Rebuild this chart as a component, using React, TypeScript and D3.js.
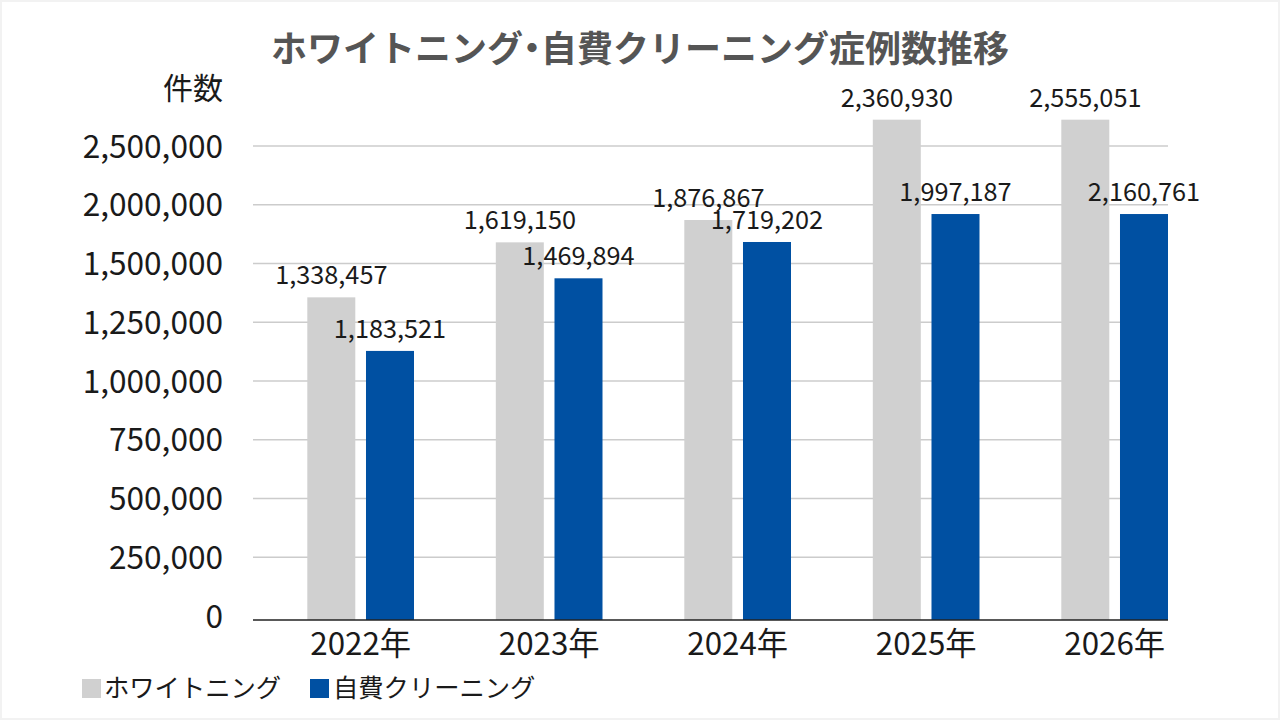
import React from 'react';
import * as d3 from 'd3';

const categories = ['2022年', '2023年', '2024年', '2025年', '2026年'];
const seriesNames = ['ホワイトニング', '自費クリーニング'];
const seriesColors = ['#d0d0d0', '#0050a2'];

// printed values above each bar
const whiteningLabels = [1338457, 1619150, 1876867, 2360930, 2555051];
const cleaningLabels = [1183521, 1469894, 1719202, 1997187, 2160761];

// bar heights as drawn in the chart
const whiteningBars = [1356000, 1680000, 1870000, 2724000, 2724000];
const cleaningBars = [1128000, 1437000, 1683000, 1921000, 1921000];

const yTicks = [0, 250000, 500000, 750000, 1000000, 1250000, 1500000, 2000000, 2500000];

const W = 1280;
const H = 720;
const FONT = '"Noto Sans CJK JP", "Noto Sans", sans-serif';

const plot = { left: 253, right: 1168, top: 146, bottom: 620, step: 58.75 };

export default function App() {
  // the axis is not linear: ticks are spaced evenly, so a piecewise scale
  const y = d3.scaleLinear()
    .domain(yTicks)
    .range(yTicks.map((_, i) => (i === 0 ? plot.bottom : plot.top + (yTicks.length - 1 - i) * plot.step)));

  const x0 = d3.scaleBand<string>()
    .domain(categories)
    .range([307.3, 307.3 + 188.5 * categories.length]);

  const x1 = d3.scaleBand<string>()
    .domain(seriesNames)
    .range([0, 106.7])
    .paddingInner(0.182);

  const fmt = d3.format(',');

  const barSets = [
    { name: seriesNames[0], bars: whiteningBars, labels: whiteningLabels, color: seriesColors[0] },
    { name: seriesNames[1], bars: cleaningBars, labels: cleaningLabels, color: seriesColors[1] },
  ];

  return (
    <div style={{ position: 'fixed', left: 0, top: 0 }}>
      <svg width={W} height={H} style={{ display: 'block', fontFamily: FONT }}>
        <rect x={0} y={0} width={W} height={H} fill="#f2f2f2" />
        <rect x={2} y={2} width={W - 4} height={H - 4} fill="#ffffff" />

        <text x={640} y={62} textAnchor="middle" fontSize={36} fontWeight="bold" fill="#555555">
          ホワイトニング<tspan dx={-9}>・</tspan><tspan dx={-9}>自費クリーニング症例数推移</tspan>
        </text>
        <text x={163} y={99} fontSize={30} fill="#1a1a1a">件数</text>

        {/* gridlines */}
        {yTicks.slice(1).map(t => (
          <line key={t} x1={plot.left} x2={plot.right} y1={y(t)} y2={y(t)} stroke="#cccccc" strokeWidth={1.5} />
        ))}

        {/* y tick labels */}
        {yTicks.map(t => (
          <text key={t} x={223} y={y(t) + (t === 0 ? 8 : 11.5)} textAnchor="end" fontSize={31.6} fill="#1a1a1a">
            {fmt(t)}
          </text>
        ))}

        {/* bars */}
        {categories.map((c, i) => (
          <g key={c} transform={`translate(${x0(c)},0)`}>
            {barSets.map(s => (
              <rect
                key={s.name}
                x={x1(s.name)}
                y={y(s.bars[i])}
                width={x1.bandwidth()}
                height={y(0) - y(s.bars[i])}
                fill={s.color}
              />
            ))}
            {barSets.map(s => (
              <text
                key={s.name + '-label'}
                x={(x1(s.name) ?? 0) + x1.bandwidth() / 2}
                y={y(s.bars[i]) - 13}
                textAnchor="middle"
                fontSize={25.3}
                fill="#1a1a1a"
              >
                {fmt(s.labels[i])}
              </text>
            ))}
          </g>
        ))}

        {/* baseline */}
        <line x1={plot.left} x2={plot.right} y1={y(0)} y2={y(0)} stroke="#222222" strokeWidth={1.5} />

        {/* x labels */}
        {categories.map(c => (
          <text key={c} x={(x0(c) ?? 0) + 53.4} y={655} textAnchor="middle" fontSize={31.3} fill="#1a1a1a">
            {c}
          </text>
        ))}

        {/* legend */}
        <g>
          <rect x={82} y={679} width={19} height={19} fill={seriesColors[0]} />
          <text x={104} y={697} fontSize={25.3} fill="#1a1a1a">{seriesNames[0]}</text>
          <rect x={310} y={679} width={19} height={19} fill={seriesColors[1]} />
          <text x={333} y={697} fontSize={25.3} fill="#1a1a1a">{seriesNames[1]}</text>
        </g>
      </svg>
    </div>
  );
}
